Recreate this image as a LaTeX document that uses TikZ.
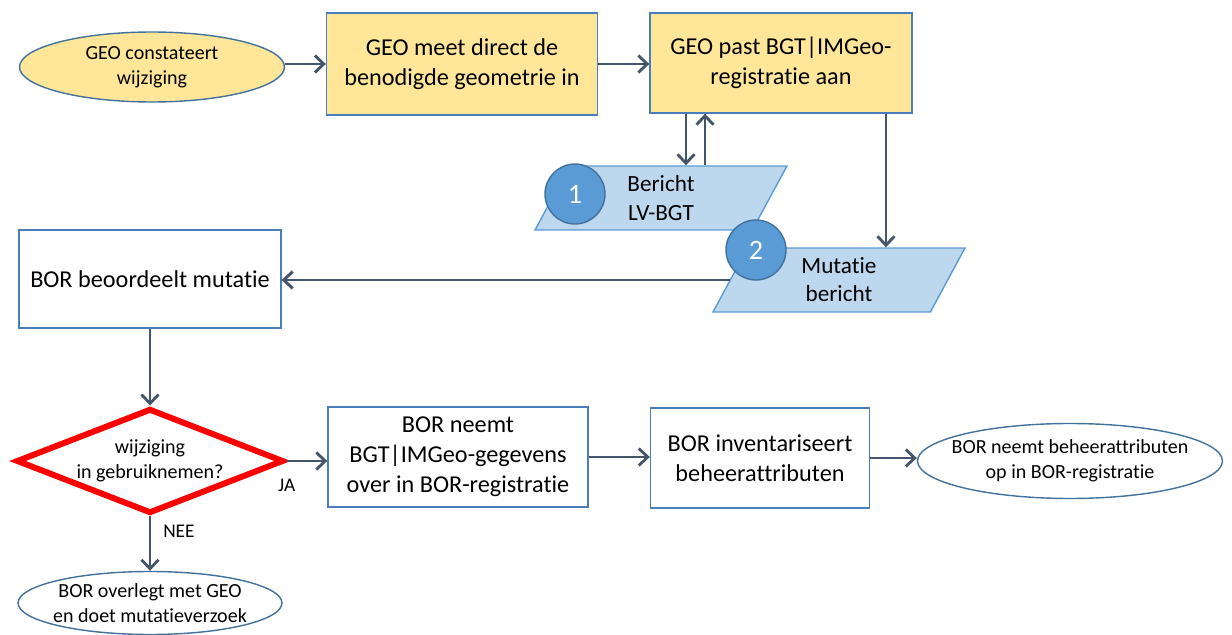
\documentclass[tikz,border=0pt]{standalone}
\usepackage{fontspec}
\setmainfont{Carlito}[Ligatures=NoCommon]
\usetikzlibrary{shapes.geometric,arrows.meta}
\definecolor{geel}{HTML}{FFE699}
\definecolor{kader}{HTML}{4A7EBB}
\definecolor{donkerblauw}{HTML}{41719C}
\definecolor{middenblauw}{HTML}{5B9BD5}
\definecolor{lichtblauw}{HTML}{BDD7EE}
\definecolor{pijlkleur}{HTML}{44546A}

\tikzset{
  stap/.style={draw=kader,line width=0.8pt,align=center,inner sep=2pt,font=\fontsize{13.8}{17}\selectfont},
  ovaal/.style={ellipse,draw=donkerblauw,line width=0.8pt,inner sep=0pt,align=center,font=\fontsize{11.4}{14.5}\selectfont},
  bericht/.style={trapezium,trapezium left angle=52,trapezium right angle=128,trapezium stretches body,
    fill=lichtblauw,draw=middenblauw,line width=0.8pt,minimum width=5.04cm,minimum height=1.28cm,
    inner sep=0pt,align=center,font=\fontsize{13.2}{16}\selectfont},
  nummer/.style={circle,fill=middenblauw,draw=donkerblauw,line width=0.8pt,minimum size=1.2cm,
    text=white,font=\fontsize{16}{16}\selectfont},
  pijl/.style={draw=pijlkleur,line width=1.6pt,-{Straight Barb[length=1.8mm,width=3.4mm]}},
  etiket/.style={font=\fontsize{11}{13}\selectfont}
}

\begin{document}
\begin{tikzpicture}[x=0.02cm,y=-0.02cm]
\useasboundingbox (0,0) rectangle (1232,635);

% bovenste rij
\node[ovaal,fill=geel,minimum width=5.3cm,minimum height=1.4cm] (start) at (152,67) {GEO constateert\\wijziging};
\node[stap,fill=geel,minimum width=5.42cm,minimum height=2.04cm] (meet) at (462,64) {GEO meet direct de\\benodigde geometrie in};
\node[stap,fill=geel,minimum width=5.24cm,minimum height=2cm] (past) at (781,63) {GEO past BGT|IMGeo-\\registratie aan};

% berichten
\node[bericht] (lvbgt) at (661,198) {Bericht\\LV-BGT};
\node[nummer] (een) at (575,194) {1};
\node[bericht] (mutatie) at (839,280) {Mutatie\\bericht};
\node[nummer] (twee) at (756,250) {2};

% BOR
\node[stap,fill=white,minimum width=5.24cm,minimum height=1.96cm] (beoordeel) at (150,279) {BOR beoordeelt mutatie};
\node[diamond,draw=red,line width=3.4pt,aspect=2.5,inner sep=0pt,minimum width=5.35cm,minimum height=2.1cm,
  align=center,font=\fontsize{11.4}{14.5}\selectfont] (keuze) at (150,461) {wijziging\\in gebruiknemen?};
\node[stap,fill=white,minimum width=5.2cm,minimum height=2cm] (overnemen) at (458,457) {BOR neemt\\BGT|IMGeo-gegevens\\over in BOR-registratie};
\node[stap,fill=white,minimum width=4.38cm,minimum height=2cm] (inventaris) at (760,458) {BOR inventariseert\\beheerattributen};
\node[ovaal,fill=white,minimum width=6.1cm,minimum height=1.5cm] (einde) at (1070,461) {\makebox[4cm]{BOR neemt beheerattributen}\\op in BOR-registratie};
\node[ovaal,fill=white,minimum width=5.28cm,minimum height=1.26cm] (overleg) at (150,603) {BOR overlegt met GEO\\\makebox[3.5cm]{en doet mutatieverzoek}};

% pijlen
\draw[pijl] (start.east |- meet.west) -- (meet.west);
\draw[pijl] (meet.east) -- (meet.east -| past.west);
\draw[pijl] ([xshift=0.5cm]lvbgt.north |- past.south) -- ([xshift=0.5cm]lvbgt.north);
\draw[pijl] ([xshift=0.88cm]lvbgt.north) -- ([xshift=0.88cm]lvbgt.north |- past.south);
\draw[pijl] ([xshift=2.1cm]past.south) -- ([xshift=2.1cm]past.south |- mutatie.north);
\draw[pijl] (mutatie.west) -- (mutatie.west -| beoordeel.east);
\draw[pijl] (beoordeel.south) -- (keuze.north);
\draw[pijl] (keuze.east) -- node[pos=0,below=0.22cm,etiket] {JA} (keuze.east -| overnemen.west);
\draw[pijl] (keuze.south) -- node[pos=0.27,right=0.12cm,etiket] {NEE} (overleg.north);
\draw[pijl] (overnemen.east) -- (overnemen.east -| inventaris.west);
\draw[pijl] (inventaris.east) -- (inventaris.east -| einde.west);
\end{tikzpicture}
\end{document}
